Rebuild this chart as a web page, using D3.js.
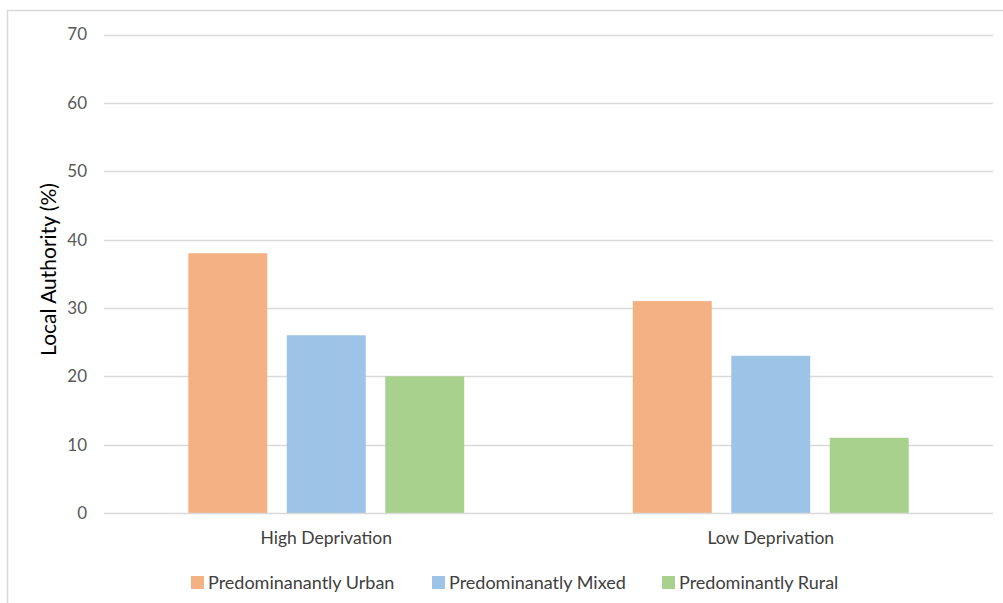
<!DOCTYPE html>
<html>
<head>
<meta charset="utf-8">
<script src="https://cdn.jsdelivr.net/npm/d3@7"></script>
<style>
  html, body { margin: 0; padding: 0; background: #fff; }
  svg { display: block; font-family: Lato, "Open Sans", sans-serif; }
</style>
</head>
<body>
<svg id="chart" width="1003" height="603"></svg>
<script>
// Share of local authorities by deprivation level and settlement type
const categories = ["High Deprivation", "Low Deprivation"];
const seriesNames = ["Predominanantly Urban", "Predominanatly Mixed", "Predominantly Rural"];
const urbanValues = [38, 31];
const mixedValues = [26, 23];
const ruralValues = [20, 11];
const yTicks = [0, 10, 20, 30, 40, 50, 60, 70];
const seriesColors = ["#F4B183", "#9DC3E6", "#A9D18E"];

const seriesValues = [urbanValues, mixedValues, ruralValues];
const rows = categories.map((c, i) => ({
  category: c,
  values: seriesNames.map((s, j) => ({ series: s, value: seriesValues[j][i], color: seriesColors[j] }))
}));

const svg = d3.select("#chart");
const margin = { left: 104, top: 34 };
const plotRight = 993, plotBottom = 513;

// outer frame
svg.append("rect")
  .attr("x", 7.5).attr("y", 10.5)
  .attr("width", 1010).attr("height", 610)
  .attr("fill", "none").attr("stroke", "#d9d9d9").attr("stroke-width", 1.5);

const y = d3.scaleLinear().domain([0, 70]).range([plotBottom, margin.top + 0.5]);
const x0 = d3.scaleBand().domain(categories).range([margin.left, plotRight]).padding(0);
const x1 = d3.scaleBand().domain(seriesNames).range([0, x0.bandwidth()])
  .paddingInner(0.198).paddingOuter(0.856);

// gridlines
svg.append("g")
  .selectAll("line")
  .data(yTicks.filter(t => t > 0))
  .join("line")
  .attr("x1", margin.left).attr("x2", plotRight)
  .attr("y1", d => Math.round(y(d)) + 0.5).attr("y2", d => Math.round(y(d)) + 0.5)
  .attr("stroke", "#d9d9d9").attr("stroke-width", 1.5);

// y axis tick labels
const yAxis = d3.axisLeft(y).tickValues(yTicks).tickSize(0).tickPadding(17);
const gy = svg.append("g").attr("transform", `translate(${margin.left},0)`).call(yAxis);
gy.select(".domain").remove();
gy.selectAll("text")
  .attr("fill", "#595959")
  .style("font-size", "17px")
  .style("font-family", "Lato, 'Open Sans', sans-serif");

// bars
const groups = svg.append("g")
  .selectAll("g")
  .data(rows)
  .join("g")
  .attr("transform", d => `translate(${x0(d.category)},0)`);

groups.selectAll("rect")
  .data(d => d.values)
  .join("rect")
  .attr("x", d => x1(d.series))
  .attr("width", x1.bandwidth())
  .attr("y", d => y(d.value))
  .attr("height", d => plotBottom - y(d.value))
  .attr("fill", d => d.color);

// x axis (baseline + category labels)
const xAxis = d3.axisBottom(x0).tickSize(0).tickPadding(19);
const gx = svg.append("g").attr("transform", `translate(0,${plotBottom})`).call(xAxis);
gx.select(".domain").attr("stroke", "#d9d9d9").attr("stroke-width", 1.5).attr("d", `M${margin.left},0.5H${plotRight}`);
gx.selectAll("text")
  .attr("fill", "#404040")
  .style("font-size", "17.5px")
  .style("font-family", "Lato, 'Open Sans', sans-serif");

// y axis title
svg.append("text")
  .attr("transform", `translate(56,${(margin.top + plotBottom) / 2 - 4}) rotate(-90)`)
  .attr("text-anchor", "middle")
  .attr("fill", "#000")
  .style("font-size", "21px")
  .text("Local Authority (%)");

// legend
const legendX = [191, 432, 662];
const legend = svg.append("g")
  .selectAll("g")
  .data(seriesNames)
  .join("g")
  .attr("transform", (d, i) => `translate(${legendX[i]},576)`);
legend.append("rect")
  .attr("width", 13).attr("height", 13)
  .attr("fill", (d, i) => seriesColors[i]);
legend.append("text")
  .attr("x", 17).attr("y", 12.5)
  .attr("fill", "#404040")
  .style("font-size", "18px")
  .text(d => d);
</script>
</body>
</html>
